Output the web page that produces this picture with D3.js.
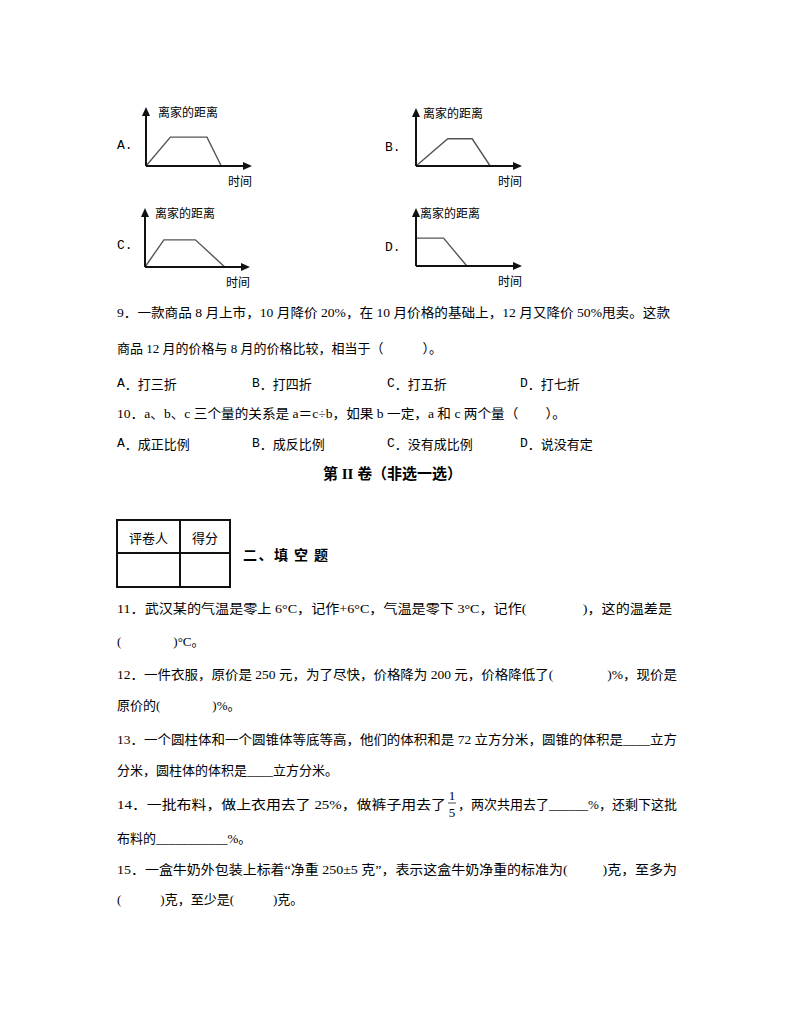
<!DOCTYPE html>
<meta charset="utf-8">
<body style="margin:0;background:#fff">
<svg width="794" height="1028"></svg>
</body>
<script src="https://d3js.org/d3.v7.min.js"></script>
<script>

// four small "distance from home" graphs (time on x, distance on y, 0-10 units)
var graphLetters = ["A.", "B.", "C.", "D."];
var yTitle = "离家的距离", xTitle = "时间";
var distA = [[0, 0], [2.3, 4.9], [5.75, 4.9], [7.1, 0]];
var distB = [[0, 0], [3.0, 4.7], [5.3, 4.7], [7.0, 0]];
var distC = [[0, 0], [1.8, 4.6], [4.8, 4.6], [7.6, 0]];
var distD = [[0, 4.8], [2.6, 4.8], [4.8, 0]];
var series = [distA, distB, distC, distD];

var options9 = ["打三折", "打四折", "打五折", "打七折"];
var options10 = ["成正比例", "成反比例", "没有成比例", "说没有定"];
var optionLetters = ["A", "B", "C", "D"];

var svg = d3.select("svg");
var serif = "'Liberation Serif', 'Noto Sans CJK SC', sans-serif";
var cjk = "'Noto Sans CJK SC', sans-serif";
var mono = "'Liberation Mono', 'Noto Sans CJK SC', monospace";

svg.append("rect").attr("width", 794).attr("height", 1028).attr("fill", "#fff");

// frame for each graph: origin, axis lengths, letter position, title offset
var frames = [
  {ox: 146, oy: 166, w: 106, h: 59, lx: 117, ly: 145, tdx: 12},
  {ox: 416, oy: 166, w: 106, h: 58, lx: 385, ly: 147, tdx: 7},
  {ox: 145, oy: 267, w: 105, h: 59, lx: 117, ly: 245, tdx: 10},
  {ox: 416, oy: 266, w: 106, h: 58, lx: 385, ly: 247, tdx: 4}
];

frames.forEach(function(f, i) {
  var x = d3.scaleLinear().domain([0, 10]).range([f.ox, f.ox + f.w]);
  var y = d3.scaleLinear().domain([0, 10]).range([f.oy, f.oy - f.h]);
  var g = svg.append("g");

  var line = d3.line().x(function(d) { return x(d[0]); }).y(function(d) { return y(d[1]); });

  g.append("path")
      .attr("d", line(series[i]))
      .attr("fill", "none")
      .attr("stroke", "#555")
      .attr("stroke-width", 1.4);

  // axes with arrow heads
  g.append("line")
      .attr("x1", x(0)).attr("y1", y(0)).attr("x2", x(10) - 4).attr("y2", y(0))
      .attr("stroke", "#111").attr("stroke-width", 2);
  g.append("line")
      .attr("x1", x(0)).attr("y1", y(0)).attr("x2", x(0)).attr("y2", y(10) + 4)
      .attr("stroke", "#111").attr("stroke-width", 2);
  g.append("path")
      .attr("d", "M" + x(10) + "," + y(0) + "l-9,-4l0,8z")
      .attr("fill", "#111");
  g.append("path")
      .attr("d", "M" + x(0) + "," + y(10) + "l-4,9l8,0z")
      .attr("fill", "#111");

  g.append("text")
      .attr("x", x(0) + f.tdx).attr("y", y(10) + 4)
      .attr("dominant-baseline", "central")
      .attr("font-family", cjk).attr("font-size", 12)
      .text(yTitle);
  g.append("text")
      .attr("x", x(10)).attr("y", y(0) + 14)
      .attr("dominant-baseline", "central")
      .attr("text-anchor", "end")
      .attr("font-family", cjk).attr("font-size", 12)
      .text(xTitle);
  g.append("text")
      .attr("x", f.lx).attr("y", f.ly)
      .attr("dominant-baseline", "central")
      .attr("font-family", mono).attr("font-size", 13)
      .text(graphLetters[i]);
});

function addLine(txt, x, y, fitTo) {
  var t = svg.append("text")
      .attr("x", x).attr("y", y)
      .attr("dominant-baseline", "central")
      .attr("font-family", serif)
      .attr("font-size", 13)
      .style("white-space", "pre")
      .text(txt);
  if (fitTo) t.attr("textLength", fitTo - x).attr("lengthAdjust", "spacingAndGlyphs");
  return t;
}

function addOptions(list, y) {
  var xs = [117, 252, 387, 520];
  list.forEach(function(o, i) {
    var t = svg.append("text")
        .attr("x", xs[i]).attr("y", y)
        .attr("dominant-baseline", "central")
        .attr("font-size", 13);
    t.append("tspan").attr("font-family", mono).text(optionLetters[i]);
    t.append("tspan").attr("font-family", cjk).text("．" + o);
  });
}

addLine("9．一款商品 8 月上市，10 月降价 20%，在 10 月价格的基础上，12 月又降价 50%甩卖。这款", 117, 312, 670);
addLine("商品 12 月的价格与 8 月的价格比较，相当于（\u3000\u3000\u3000）。", 117, 348);
addOptions(options9, 383);
addLine("10．a、b、c 三个量的关系是 a＝c÷b，如果 b 一定，a 和 c 两个量（\u3000\u3000）。", 117, 413, 566);
addOptions(options10, 443);

svg.append("text")
    .attr("x", 323).attr("y", 474)
    .attr("dominant-baseline", "central")
    .attr("font-family", serif).attr("font-weight", "bold").attr("font-size", 15)
    .attr("textLength", 139).attr("lengthAdjust", "spacingAndGlyphs")
    .text("第 II 卷（非选一选）");

// score table
var tbl = svg.append("g").attr("stroke", "#111").attr("stroke-width", 2).attr("fill", "none");
tbl.append("rect").attr("x", 117).attr("y", 520).attr("width", 113).attr("height", 67);
tbl.append("line").attr("x1", 117).attr("x2", 230).attr("y1", 553).attr("y2", 553);
tbl.append("line").attr("x1", 180).attr("x2", 180).attr("y1", 520).attr("y2", 587);
[["评卷人", 148.5], ["得分", 205]].forEach(function(c) {
  svg.append("text").attr("x", c[1]).attr("y", 537)
      .attr("text-anchor", "middle").attr("dominant-baseline", "central")
      .attr("font-family", cjk).attr("font-size", 13).text(c[0]);
});
svg.append("text")
    .attr("x", 243).attr("y", 554)
    .attr("dominant-baseline", "central")
    .attr("font-family", cjk).attr("font-weight", "bold").attr("font-size", 14)
    .attr("textLength", 85).attr("lengthAdjust", "spacing")
    .style("white-space", "pre")
    .text("二、填 空 题");

addLine("11．武汉某的气温是零上 6°C，记作+6°C，气温是零下 3°C，记作(\u3000\u3000\u3000\u3000)，这的温差是", 117, 608, 672);
addLine("(\u3000\u3000\u3000\u3000)°C。", 117, 641);
addLine("12．一件衣服，原价是 250 元，为了尽快，价格降为 200 元，价格降低了(\u3000\u3000\u3000\u3000)%，现价是", 117, 674, 677);
addLine("原价的(\u3000\u3000\u3000\u3000)%。", 117, 705);
addLine("13．一个圆柱体和一个圆锥体等底等高，他们的体积和是 72 立方分米，圆锥的体积是____立方", 117, 739, 677);
addLine("分米，圆柱体的体积是____立方分米。", 117, 770);

// line 14 with the stacked fraction 1/5
addLine("14．一批布料，做上衣用去了 25%，做裤子用去了", 117, 804, 446);
var fr = svg.append("g").attr("font-family", serif).attr("font-size", 13).attr("text-anchor", "middle");
fr.append("text").attr("x", 452).attr("y", 795).attr("dominant-baseline", "central").text("1");
fr.append("line").attr("x1", 448).attr("x2", 456).attr("y1", 803).attr("y2", 803)
    .attr("stroke", "#222").attr("stroke-width", 0.8);
fr.append("text").attr("x", 452).attr("y", 812).attr("dominant-baseline", "central").text("5");
addLine("，两次共用去了______%，还剩下这批", 458, 804, 677);
addLine("布料的___________%。", 117, 838);

addLine("15．一盒牛奶外包装上标着“净重 250±5 克”，表示这盒牛奶净重的标准为(\u3000\u3000\u2002)克，至多为", 117, 869, 677);
addLine("(\u3000\u3000\u3000)克，至少是(\u3000\u3000\u3000)克。", 117, 899);

</script>
